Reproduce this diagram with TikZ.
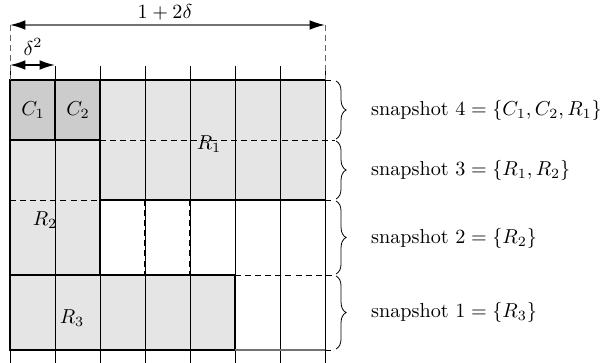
\documentclass[tikz,border=0pt]{standalone}
\usetikzlibrary{arrows.meta}
\usetikzlibrary{decorations.pathreplacing}
\tikzset{
	gridline/.style={line width=0.4pt},
	border/.style={line width=0.9pt},
	mydash/.style={dashed, dash pattern=on 3pt off 2pt},
	lightcell/.style={fill=black!10},
	darkcell/.style={fill=black!20},
	dimarrow/.style={{Latex[length=2.7mm, width=1.7mm, color=black]}-{Latex[length=2.7mm, width=1.7mm, color=black]}},
	snapbrace/.style={decorate, decoration={brace, amplitude=5pt}},
}

\begin{document}
\begin{tikzpicture}[x=0.01742cm, y=-0.01742cm]
	\useasboundingbox (0,0) rectangle (601,363);
	% shaded regions
	\fill[lightcell] (100,80) rectangle (325,200);
	\fill[lightcell] (10,140) rectangle (100,275);
	\fill[lightcell] (10,275) rectangle (235,350);
	\fill[darkcell] (10,80) rectangle (100,140);
	% grid
	\foreach \i in {0,...,7}
		\draw[gridline] (10+45*\i, 66) -- (10+45*\i, 363);
	\draw[mydash, line width=0.55pt] (145,200) -- (145,275);
	\draw[mydash, line width=0.55pt] (190,200) -- (190,275);
	% borders
	\draw[border] (10,80) -- (325,80);
	\draw[border] (10,80) rectangle (55,140);
	\draw[border] (55,80) rectangle (100,140);
	\draw[border] (100,140) -- (100,200) -- (325,200);
	\draw[border] (100,200) -- (100,275);
	\draw[border] (10,140) -- (10,350) -- (235,350) -- (235,275) -- (10,275);
	\draw[border, black!55] (235,350) -- (325,350);
	% dashed extensions
	\draw[mydash] (100,140) -- (335,140);
	\draw[mydash] (10,200) -- (100,200);
	\draw[mydash] (235,275) -- (335,275);
	\foreach \y in {80,200,350}
		\draw[mydash] (325,\y) -- (335,\y);
	% dimensions
	\coordinate (wL) at (10,25);
	\coordinate (wR) at (325,25);
	\coordinate (cL) at (10,65);
	\coordinate (cR) at (55,65);
	\draw[mydash, black!60] (wL) -- (10,80);
	\draw[mydash, black!60] (wR) -- (325,80);
	\draw[dimarrow, black!55, thick] (wL) -- (wR);
	\draw[dimarrow, thick] (cL) -- (cR);
	\node (wlabel) at (165,12) {$1+2\delta$};
	\node (clabel) at (33,47) {$\delta^2$};
	% cell labels
	\node (c1) at (33,110) {$C_1$};
	\node (c2) at (78,110) {$C_2$};
	\node (r1) at (209,144) {$R_1$};
	\node (r2) at (45,220) {$R_2$};
	\node (r3) at (72,318) {$R_3$};
	% snapshots
	\draw[snapbrace] (336,81) -- (336,139);
	\draw[snapbrace] (336,141) -- (336,199);
	\draw[snapbrace] (336,201) -- (336,274);
	\draw[snapbrace] (336,276) -- (336,349);
	\node[anchor=west] (snap4) at (364,110) {snapshot $4 = \{C_1, C_2, R_1\}$};
	\node[anchor=west] (snap3) at (364,170) {snapshot $3 = \{R_1, R_2\}$};
	\node[anchor=west] (snap2) at (364,238) {snapshot $2 = \{R_2\}$};
	\node[anchor=west] (snap1) at (364,312) {snapshot $1 = \{R_3\}$};
\end{tikzpicture}
\end{document}
